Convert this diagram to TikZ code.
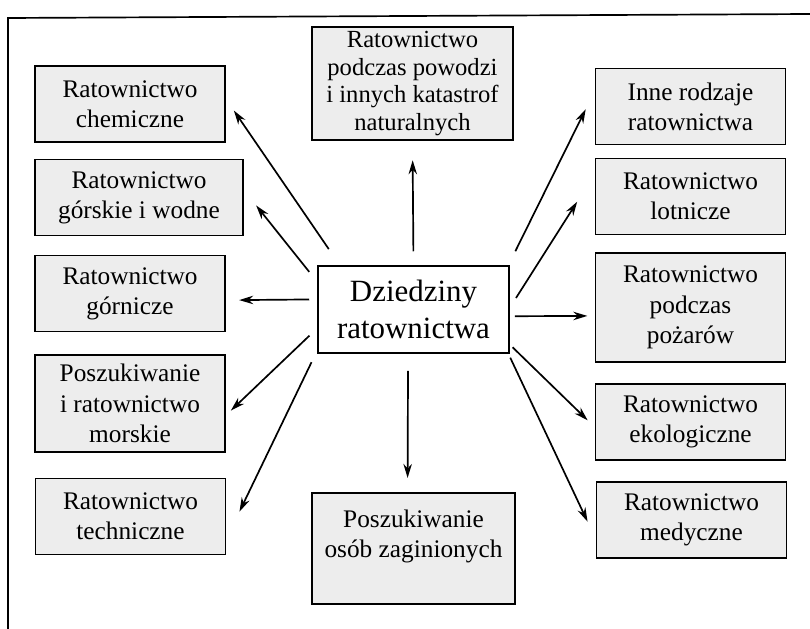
\documentclass[tikz,border=0pt]{standalone}
\usepackage{fontspec}
\setmainfont{Liberation Serif}
\usetikzlibrary{arrows.meta}

\begin{document}
\begin{tikzpicture}[x=0.025cm,y=-0.025cm,
    dom/.style={draw,fill=gray!14,line width=1.3pt,align=center,inner sep=2pt,
        minimum width=4.75cm,minimum height=1.9cm,
        font=\fontsize{18}{21.5}\selectfont},
    hub/.style={draw,fill=white,line width=0.9pt,align=center,
        minimum width=4.78cm,minimum height=2.18cm,
        font=\fontsize{22}{26}\selectfont},
    arr/.style={-{Stealth[length=10pt,width=6pt]},line width=1.2pt}]
    \useasboundingbox (0,0) rectangle (810,629);
    % ramka
    \draw[line width=1.2pt] (8,629) -- (8,18) -- (810,14);

    \node[hub] (hub) at (413.5,309.5) {Dziedziny\\ratownictwa};

    % lewa kolumna
    \node[dom] (chem) at (130,104) {Ratownictwo\\chemiczne};
    \node[dom,minimum width=5.2cm] (gorsk) at (139,197.5) {Ratownictwo\\górskie i wodne};
    \node[dom] (gorn) at (130,293.5) {Ratownictwo\\górnicze};
    \node[dom,minimum height=2.43cm] (morsk) at (130,403.5) {Poszukiwanie\\i ratownictwo\\morskie};
    \node[dom] (techn) at (130.5,516.5) {Ratownictwo\\techniczne};

    % srodek
    \node[dom,minimum width=5.03cm,minimum height=2.83cm,font=\fontsize{17.5}{19.5}\selectfont]
        (powodz) at (412.5,83.5) {Ratownictwo\\podczas powodzi\\i innych katastrof\\naturalnych};
    \node[dom,minimum width=5.08cm,minimum height=2.78cm]
        (poszuk) at (413.5,548.5) {Poszukiwanie\\osób zaginionych\\\mbox{}};

    % prawa kolumna
    \node[dom] (inne) at (690.5,106.5) {Inne rodzaje\\ratownictwa};
    \node[dom] (lotn) at (690.5,196.5) {Ratownictwo\\lotnicze};
    \node[dom,minimum height=2.73cm] (pozar) at (690.5,307.5) {Ratownictwo\\podczas\\pożarów};
    \node[dom] (ekol) at (690.5,422) {Ratownictwo\\ekologiczne};
    \node[dom] (medyc) at (691.5,520) {Ratownictwo\\medyczne};

    \path[arr]
        (hub.149) edge[shorten <=0.49cm,shorten >=0.35cm] (chem.3)
        (hub.164) edge[shorten <=0.32cm,shorten >=0.49cm] (gorsk.4)
        (hub.174) edge[shorten <=0.2cm,shorten >=0.33cm] (gorn.-4)
        (hub.191) edge[shorten <=0.27cm,shorten >=0.17cm] (morsk.-7)
        (hub.203) edge[shorten <=0.33cm,shorten >=0.75cm] (techn.-13)
        (hub.north) edge[shorten <=0.35cm,shorten >=0.48cm] (powodz.south)
        (hub.263) edge[shorten <=0.43cm,shorten >=0.35cm] (poszuk.96)
        (hub.25) edge[shorten <=0.39cm,shorten >=0.5cm] (inne.171)
        (hub.1.5) edge[shorten <=0.29cm,shorten >=0.81cm] (lotn.167)
        (hub.-4) edge[shorten <=0.13cm,shorten >=0.18cm] (pozar.185)
        (hub.-20) edge[shorten <=0.1cm,shorten >=0.24cm] (ekol.183)
        (hub.-25) edge[shorten <=0.11cm,shorten >=0.47cm] (medyc.191);
\end{tikzpicture}
\end{document}
